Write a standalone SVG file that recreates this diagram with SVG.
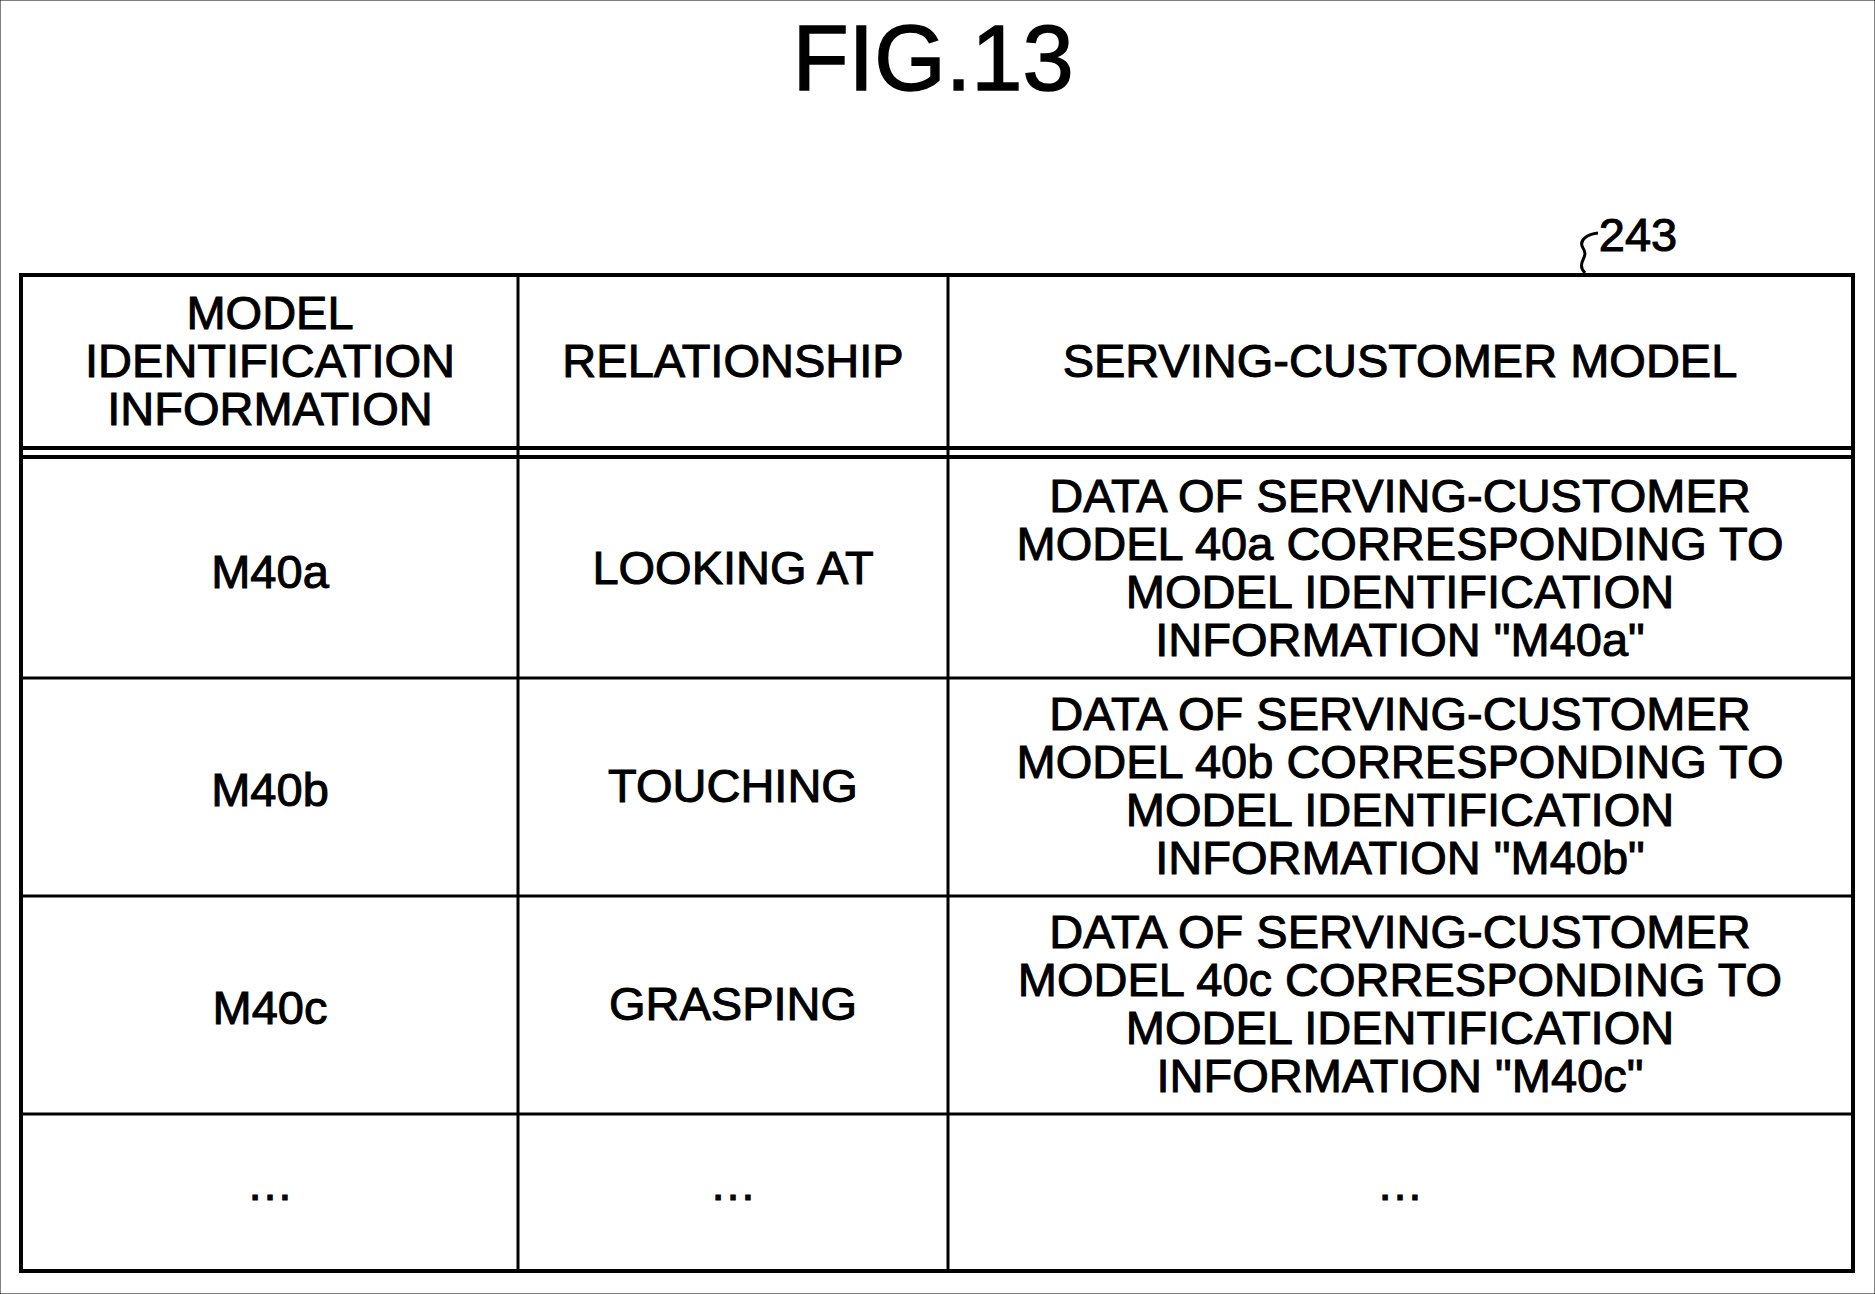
<svg xmlns="http://www.w3.org/2000/svg" width="1875" height="1294" viewBox="0 0 1875 1294">
<style>
text{font-family:"Liberation Sans",Arial,sans-serif;font-size:47px;text-anchor:middle;fill:#000;stroke:#000;stroke-width:1}
.t{font-size:92px;stroke-width:1.5}
line,rect,path{stroke:#000;fill:none}
</style>
<rect width="1875" height="1294" fill="#fff" stroke="none"/>
<text class="t" x="933" y="90">FIG.13</text>
<g id="ref"><text x="1638" y="251">243</text><path d="M1585,273 C1575,262 1590,258 1583,248 C1578,240 1588,234 1598,233" stroke-width="3"/></g>
<g id="grid">
<rect x="21" y="275" width="1832" height="996" stroke-width="4"/>
<line x1="21" y1="448" x2="1853" y2="448" stroke-width="4"/>
<line x1="21" y1="457" x2="1853" y2="457" stroke-width="4"/>
<line x1="21" y1="678" x2="1853" y2="678" stroke-width="3"/>
<line x1="21" y1="896" x2="1853" y2="896" stroke-width="3"/>
<line x1="21" y1="1114" x2="1853" y2="1114" stroke-width="3"/>
<line x1="518" y1="275" x2="518" y2="1271" stroke-width="3"/>
<line x1="948" y1="275" x2="948" y2="1271" stroke-width="3"/>
</g>
<g id="header">
<text x="270" y="329">MODEL</text><text x="270" y="377">IDENTIFICATION</text><text x="270" y="425">INFORMATION</text>
<text x="733" y="377">RELATIONSHIP</text>
<text x="1400" y="377">SERVING-CUSTOMER MODEL</text>
</g>
<g id="row1"><text x="270" y="588">M40a</text><text x="733" y="584">LOOKING AT</text>
<text x="1400" y="512">DATA OF SERVING-CUSTOMER</text><text x="1400" y="560">MODEL 40a CORRESPONDING TO</text><text x="1400" y="608">MODEL IDENTIFICATION</text><text x="1400" y="656">INFORMATION "M40a"</text></g>
<g id="row2"><text x="270" y="806">M40b</text><text x="733" y="802">TOUCHING</text>
<text x="1400" y="730">DATA OF SERVING-CUSTOMER</text><text x="1400" y="778">MODEL 40b CORRESPONDING TO</text><text x="1400" y="826">MODEL IDENTIFICATION</text><text x="1400" y="874">INFORMATION "M40b"</text></g>
<g id="row3"><text x="270" y="1024">M40c</text><text x="733" y="1020">GRASPING</text>
<text x="1400" y="948">DATA OF SERVING-CUSTOMER</text><text x="1400" y="996">MODEL 40c CORRESPONDING TO</text><text x="1400" y="1044">MODEL IDENTIFICATION</text><text x="1400" y="1092">INFORMATION "M40c"</text></g>
<g id="row4"><text x="270" y="1200">…</text><text x="733" y="1200">…</text><text x="1400" y="1200">…</text></g>
</svg>
